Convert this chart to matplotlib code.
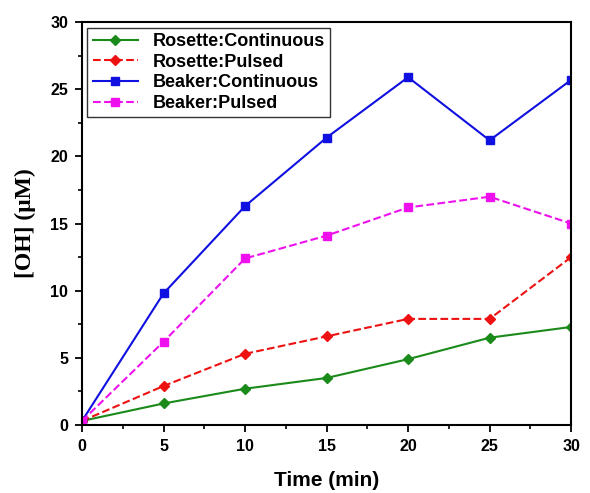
import matplotlib
matplotlib.use("Agg")
import matplotlib.pyplot as plt

# Data
time_min = [0, 5, 10, 15, 20, 25, 30]
rosette_cont = [0.3, 1.6, 2.7, 3.5, 4.9, 6.5, 7.3]
rosette_pulsed = [0.3, 2.9, 5.3, 6.6, 7.9, 7.9, 12.5]
beaker_cont = [0.3, 9.8, 16.3, 21.4, 25.9, 21.2, 25.7]
beaker_pulsed = [0.3, 6.2, 12.4, 14.1, 16.2, 17.0, 15.0]

plt.rcParams['font.family'] = ['Liberation Sans', 'DejaVu Sans']
plt.rcParams['font.weight'] = 'bold'

fig = plt.figure(figsize=(5.9, 4.93), dpi=100)
ax = fig.add_axes([0.139, 0.138, 0.829, 0.817])

ax.plot(time_min, rosette_cont, '-', color='#1a8a1a', marker='D', ms=5.5, lw=1.5,
        label='Rosette:Continuous')
ax.plot(time_min, rosette_pulsed, '--', color='#ee1111', marker='D', ms=5.5, lw=1.5,
        label='Rosette:Pulsed')
ax.plot(time_min, beaker_cont, '-', color='#1010e0', marker='s', ms=5.5, lw=1.5,
        label='Beaker:Continuous')
ax.plot(time_min, beaker_pulsed, '--', color='#ee11ee', marker='s', ms=5.5, lw=1.5,
        label='Beaker:Pulsed')

ax.set_xlim(0, 30)
ax.set_ylim(0, 30)
ax.set_xticks(range(0, 31, 5))
ax.set_yticks(range(0, 31, 5))
ax.set_xticks([2.5 + 5 * i for i in range(6)], minor=True)
ax.set_yticks([2.5 + 5 * i for i in range(6)], minor=True)
ax.tick_params(which='major', direction='out', length=5, width=1.3, labelsize=11.5,
               pad=5)
ax.tick_params(which='minor', direction='out', length=3, width=1.2)
for lbl in ax.get_xticklabels() + ax.get_yticklabels():
    lbl.set_fontweight('bold')
for sp in ax.spines.values():
    sp.set_linewidth(1.5)

ax.set_xlabel('Time (min)', fontsize=15, fontweight='bold', labelpad=12)
ax.set_ylabel('[OH] (\u03bcM)', fontsize=17, fontweight='bold', labelpad=10,
              family=['Liberation Serif', 'DejaVu Serif'])

leg = ax.legend(loc='upper left', fontsize=13, frameon=True, fancybox=False,
                edgecolor='black', handlelength=2.5, borderaxespad=0.3,
                labelspacing=0.2, borderpad=0.3)
leg.get_frame().set_linewidth(1.0)

fig.savefig('out.png', dpi=100)
